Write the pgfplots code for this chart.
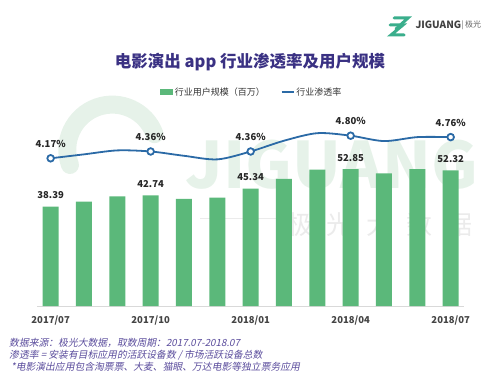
\documentclass[border=0pt]{standalone}
\usepackage{fontspec}
\usepackage{pgfplots}
\pgfplotsset{compat=1.18}
\setmainfont{Noto Sans CJK SC}
\newfontfamily\footfont{Noto Sans CJK SC}[FakeSlant=0.2]
\definecolor{bargreen}{HTML}{5BB87A}
\definecolor{lineblue}{HTML}{2B6AA6}
\definecolor{titlec}{HTML}{3A3183}
\definecolor{footc}{HTML}{5A4C9C}
\definecolor{tickc}{HTML}{444444}
\definecolor{wm}{HTML}{E6F2E9}
\definecolor{logoc}{HTML}{3AAE8C}
\begin{document}
\begin{tikzpicture}
\path[use as bounding box] (0pt,0pt) rectangle (500pt,375pt);
% watermark
\node[font=\fontsize{64}{64}\selectfont\bfseries, text=wm, anchor=center] at (332pt,210pt) {JIGUANG};
\node[font=\fontsize{26}{26}\selectfont, text=black!8, anchor=center] at (380pt,150pt) {极\hspace{14pt}光\hspace{14pt}大\hspace{14pt}数\hspace{14pt}据};
\draw[black!8, line width=0.8pt] (200pt,157pt) -- (280pt,157pt);
\draw[wm, line width=18pt, line cap=round] (70pt,210pt) arc[start angle=200, end angle=20, radius=45pt];
% logo
\draw[logoc, line width=3pt, line cap=round] (390pt,350pt) -- (403pt,350pt) -- (391pt,340pt) -- (404pt,340pt);
\draw[logoc, line width=3pt, line cap=round] (394pt,357pt) -- (408pt,357pt) -- (396pt,346pt);
\node[font=\fontsize{10}{10}\selectfont\bfseries, text=black!75, anchor=west] at (412pt,350pt) {JIGUANG};
\node[font=\fontsize{8}{8}\selectfont, text=black!60, anchor=west] at (458pt,350pt) {|\,极光};
% title
\node[font=\fontsize{16.5}{16.5}\selectfont\bfseries, text=titlec] at (250pt,313pt) {电影演出 app 行业渗透率及用户规模};
% bars
\begin{axis}[
  at={(37.3pt,69pt)}, anchor=south west,
  scale only axis, width=426.7pt, height=186pt,
  xmin=-0.4, xmax=12.4, ymin=0, ymax=71.8,
  axis line style={draw=none},
  ytick=\empty,
  xtick={0,3,6,9,12},
  xticklabels={2017/07,2017/10,2018/01,2018/04,2018/07},
  xticklabel style={font=\fontsize{9.5}{9.5}\selectfont\bfseries, text=tickc, yshift=-6pt},
  major tick length=0pt,
  /pgf/number format/assume math mode=true,
  clip=false,
]
\draw[black!15, line width=0.8pt] (axis cs:-0.4,0) -- (axis cs:12.4,0);
\addplot[ybar, bar width=16pt, fill=bargreen, draw=none,
  point meta=explicit symbolic,
  nodes near coords,
  every node near coord/.style={font=\fontsize{9.5}{9.5}\selectfont\bfseries, text=black!85, anchor=south, yshift=4pt}]
coordinates {
(0,38.39)[38.39] (1,40.3)[] (2,42.35)[] (3,42.74)[42.74] (4,41.4)[] (5,41.8)[]
(6,45.34)[45.34] (7,49.1)[] (8,52.6)[] (9,52.85)[52.85] (10,51.2)[] (11,52.8)[] (12,52.32)[52.32]
};
\end{axis}
% line
\begin{axis}[
  at={(37.3pt,69pt)}, anchor=south west,
  scale only axis, width=426.7pt, height=186pt,
  xmin=-0.4, xmax=12.4, ymin=0.056, ymax=5.237,
  hide axis,
  clip=false,
  legend columns=2,
  legend style={at={(axis description cs:0.503,1.1505)}, anchor=center, draw=none, fill=none,
    font=\fontsize{9}{9}\selectfont, text=black!80,
    /tikz/every even column/.append style={column sep=14pt}},
]
\addlegendimage{legend image code/.code={\fill[bargreen] (0pt,-2.5pt) rectangle (12pt,2.5pt);}}
\addlegendentry{行业用户规模（百万）}
\addlegendimage{legend image code/.code={\draw[lineblue, line width=1.6pt] (0pt,0pt) -- (12pt,0pt);}}
\addlegendentry{行业渗透率}
\addplot[lineblue, line width=1.8pt, smooth, tension=0.5,
  mark=*, mark indices={1,4,7,10,13}, mark size=3.3pt,
  mark options={fill=white, draw=lineblue, line width=1.8pt},
  point meta=explicit symbolic,
  nodes near coords,
  every node near coord/.style={font=\fontsize{9.5}{9.5}\selectfont\bfseries, text=black!85, anchor=south, yshift=6.5pt},
  forget plot]
coordinates {
(0,4.17)[4.17\%] (1,4.28)[] (2,4.39)[] (3,4.36)[4.36\%] (4,4.24)[] (5,4.14)[]
(6,4.36)[4.36\%] (7,4.66)[] (8,4.87)[] (9,4.80)[4.80\%] (10,4.65)[] (11,4.76)[] (12,4.76)[4.76\%]
};
\end{axis}
% footnotes
\node[font=\fontsize{9.8}{9.8}\selectfont, text=footc, anchor=west, inner sep=0] at (9pt,32pt) {\footfont 数据来源：极光大数据，取数周期：2017.07-2018.07};
\node[font=\fontsize{9.8}{9.8}\selectfont, text=footc, anchor=west, inner sep=0] at (9pt,20pt) {\footfont 渗透率\ =\ 安装有目标应用的活跃设备数\ /\ 市场活跃设备总数};
\node[font=\fontsize{9.8}{9.8}\selectfont, text=footc, anchor=west, inner sep=0] at (11pt,8pt) {\footfont *电影演出应用包含淘票票、大麦、猫眼、万达电影等独立票务应用};
\end{tikzpicture}
\end{document}
